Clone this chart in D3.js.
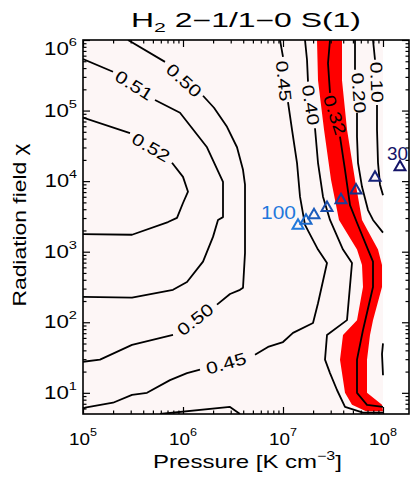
<!DOCTYPE html>
<html><head><meta charset="utf-8">
<script src="https://cdn.jsdelivr.net/npm/d3@7"></script>
<style>
body{margin:0;background:#fff}
text{font-family:"Liberation Sans",Arial,Helvetica,sans-serif;fill:#000}
</style>
</head><body>
<svg id="chart" width="412" height="483"></svg>
<script>
// ---------------- DATA ----------------
const titleText = ["H", "2", " 2\u22121/1\u22120 S(1)"];
const xLabelText = "Pressure [K cm";
const yLabelText = "Radiation field \u03c7";
const xMajorTicks = [1e5, 1e6, 1e7, 1e8];
const yMajorTicks = [1e1, 1e2, 1e3, 1e4, 1e5, 1e6];
const xTickExponents = ["5", "6", "7", "8"];
const yTickExponents = ["1", "2", "3", "4", "5", "6"];
const xDomainLog = [5, 8.26];
const yDomainLog = [0.7, 6];
const gridLogP = [5, 8];          // extent of model grid (log P)
const gridLogChi = [0.7, 6];      // extent of model grid (log chi)

// contour polylines: [log10 P, log10 chi]; null = break (label gap)
const contour052 = [[5.00,4.90],[5.47,4.68],null,[5.89,4.26],[6.00,4.06],[6.05,3.85],[6.00,3.69],[5.94,3.48],[5.85,3.42],[5.49,3.24],[5.00,3.25]];
const contour051 = [[5.00,5.73],[5.30,5.55],null,[5.72,5.15],[5.97,4.97],[6.24,4.48],[6.40,3.99],[6.40,3.49],[6.35,3.45],[6.30,3.21],[6.20,2.86],[6.04,2.57],[5.90,2.46],[5.49,2.35],[5.00,2.36]];
const contour050 = [[5.45,6.00],[5.82,5.69],null,[6.20,5.21],[6.31,5.04],[6.44,4.77],[6.54,4.48],[6.60,4.16],[6.62,3.95],[6.62,3.31],[6.62,2.98],[6.60,2.49],[6.57,2.46],[6.47,2.40],[6.34,2.25],null,[5.90,1.82],[5.49,1.68],[5.17,1.47],[5.00,1.44]];
const contour045 = [[6.97,6.00],[7.00,5.76],null,[7.05,5.12],[7.09,4.73],[7.14,4.26],[7.17,3.78],[7.22,3.38],[7.35,3.03],[7.44,2.84],[7.35,2.27],[7.30,1.99],[7.10,1.85],[7.00,1.72],[6.85,1.65],[6.72,1.54],null,[6.17,1.33],[6.04,1.28],[5.87,1.18],[5.64,1.00],[5.49,0.97],[5.30,0.86],[5.02,0.79],[5.00,0.77],null,[5.77,0.70],[6.47,0.80],[6.57,0.70]];
const contour040 = [[7.22,6.00],[7.24,5.72],[7.25,5.41],null,[7.32,4.75],[7.35,4.26],[7.40,3.78],[7.47,3.45],[7.60,3.03],[7.69,2.84],[7.64,2.03],[7.44,1.82],[7.42,1.47],[7.47,1.28],[7.54,1.04],[7.62,0.80],[7.80,0.72],[8.00,0.72]];
const contour032 = [[7.47,6.00],[7.45,5.67],[7.47,5.25],null,[7.57,4.63],[7.62,4.16],[7.67,3.66],[7.74,3.41],[7.85,3.03],[7.90,2.86],[7.90,2.50],[7.80,1.89],[7.74,1.47],[7.74,1.00],[7.84,0.83],[8.00,0.80]];
const contour020 = [[7.72,6.00],[7.72,5.58],null,[7.74,4.97],[7.74,4.63],[7.75,4.26],[7.79,3.92],[7.85,3.59],[7.90,3.45],[8.00,3.27],null,[8.00,1.70],[7.99,1.55],[8.00,1.25]];
const contour010 = [[7.90,6.00],[7.92,5.72],null,[7.94,5.08],[7.94,4.73],[7.95,4.26],[7.97,3.95],[8.00,3.80]];
const contours = [contour052, contour051, contour050, contour045, contour040, contour032, contour020, contour010];

// contour labels: text, log P, log chi, angle (deg)
const labelTexts  = ["0.50","0.51","0.52","0.50","0.45","0.45","0.40","0.32","0.20","0.10"];
const labelLogP   = [6.01, 5.51, 5.68, 6.12, 6.43, 7.01, 7.28, 7.52, 7.76, 7.94];
const labelLogChi = [5.43, 5.36, 4.48, 2.04, 1.42, 5.42, 5.08, 4.94, 5.25, 5.40];
const labelAngles = [42, 32, 30, -38, -16, 84, 81, 72, 86, 88];

// red band (observed ratio range): log chi with low / high log P
const bandLogChi = [6.00,5.43,4.73,4.02,3.45,3.03,2.81,2.50,2.03,1.82,1.47,1.00,0.83,0.74];
const bandLowP   = [7.34,7.35,7.41,7.48,7.56,7.74,7.79,7.80,7.74,7.60,7.57,7.62,7.69,7.83];
const bandHighP  = [7.59,7.59,7.64,7.72,7.79,7.95,7.99,7.99,7.90,7.87,7.84,7.84,7.99,8.00];

// triangle model points
const triLogP   = [7.15, 7.23, 7.31, 7.44, 7.58, 7.73, 7.92, 8.17];
const triLogChi = [3.37, 3.44, 3.52, 3.62, 3.73, 3.87, 4.05, 4.20];
const triEndLabels = ["100", "30"];

// ---------------- LAYOUT ----------------
const L = 83, R = 409, T = 40, B = 414;
const svg = d3.select("#chart");
const x = d3.scaleLog().domain(xDomainLog.map(v => 10 ** v)).range([L, R]);
const y = d3.scaleLog().domain(yDomainLog.map(v => 10 ** v)).range([B, T]);
const X = lp => x(10 ** lp), Y = lc => y(10 ** lc);

svg.append("defs").append("clipPath").attr("id", "clip")
  .append("rect").attr("x", L).attr("y", T).attr("width", R - L).attr("height", B - T);

const plot = svg.append("g").attr("clip-path", "url(#clip)");

// model grid background
plot.append("rect")
  .attr("x", X(gridLogP[0])).attr("y", Y(gridLogChi[1]))
  .attr("width", X(gridLogP[1]) - X(gridLogP[0]))
  .attr("height", Y(gridLogChi[0]) - Y(gridLogChi[1]) + 2)
  .attr("fill", "#fdf6f6");

// red band
const band = bandLogChi.map((c, i) => ({c, lo: bandLowP[i], hi: bandHighP[i]}));
plot.append("path").datum(band)
  .attr("d", d3.area().y(d => Y(d.c)).x0(d => X(d.lo)).x1(d => X(d.hi)).curve(d3.curveLinear))
  .attr("fill", "#ff0000");

// contours
const line = d3.line().defined(d => d).x(d => X(d[0])).y(d => Y(d[1]));
plot.selectAll("path.contour").data(contours).join("path")
  .attr("class", "contour")
  .attr("d", line).attr("fill", "none").attr("stroke", "#000")
  .attr("stroke-width", 1.8).attr("stroke-linejoin", "round");

// helper for horizontally stretched text
function stretched(parent, px, py, angle, anchor, size, targetW, build) {
  const g = parent.append("g").attr("transform", `translate(${px},${py}) rotate(${angle})`);
  const t = g.append("text").attr("text-anchor", anchor).attr("font-size", size);
  build(t);
  const w = t.node().getBBox().width;
  if (targetW && w > 0) t.attr("transform", `scale(${targetW / w},1)`);
  return t;
}

// contour labels
labelTexts.forEach((s, i) => {
  stretched(svg, X(labelLogP[i]), Y(labelLogChi[i]), labelAngles[i], "middle", 17, 41,
    t => t.attr("dy", "0.36em").text(s));
});

// triangles
const triColor = d3.scaleLinear().domain([0, triLogP.length - 1]).range(["#1f78dc", "#141468"]).interpolate(d3.interpolateRgb);
const tri = d3.symbol().type(d3.symbolTriangle).size(52);
svg.selectAll("path.tri").data(triLogP).join("path")
  .attr("class", "tri")
  .attr("d", tri)
  .attr("transform", (d, i) => `translate(${X(d)},${Y(triLogChi[i])})`)
  .attr("fill", "none").attr("stroke", (d, i) => triColor(i)).attr("stroke-width", 2);

const nT = triLogP.length - 1;
stretched(svg, X(triLogP[0]) - 2, Y(triLogChi[0]) - 7, 0, "end", 18, 35,
  t => t.attr("fill", triColor(0)).style("fill", triColor(0)).text(triEndLabels[0]));
stretched(svg, X(triLogP[nT]) - 2.5, Y(triLogChi[nT]) - 7, 0, "middle", 18, 21,
  t => t.style("fill", triColor(nT)).text(triEndLabels[1]));

// axes ticks (inward, all four sides)
function minorTicks(domLog) {
  const out = [];
  for (let e = Math.floor(domLog[0]); e <= Math.ceil(domLog[1]); e++)
    for (let k = 2; k <= 9; k++) {
      const v = k * 10 ** e;
      if (Math.log10(v) > domLog[0] && Math.log10(v) < domLog[1]) out.push(v);
    }
  return out;
}
const xMinor = minorTicks(xDomainLog), yMinor = minorTicks(yDomainLog);
const axes = [
  [d3.axisBottom(x), `translate(0,${B})`, xMajorTicks, xMinor],
  [d3.axisTop(x), `translate(0,${T})`, xMajorTicks, xMinor],
  [d3.axisLeft(y), `translate(${L},0)`, yMajorTicks, yMinor],
  [d3.axisRight(y), `translate(${R},0)`, yMajorTicks, yMinor]
];
axes.forEach(([ax, tr, maj, mnr]) => {
  [[maj, -7], [mnr, -3.5]].forEach(([vals, size]) => {
    const g = svg.append("g").attr("transform", tr)
      .call(ax.tickValues(vals).tickSize(size).tickFormat(""));
    g.select(".domain").remove();
    g.selectAll("line").attr("stroke", "#000").attr("stroke-width", 1.2);
  });
});

// frame
svg.append("rect").attr("x", L).attr("y", T).attr("width", R - L).attr("height", B - T)
  .attr("fill", "none").attr("stroke", "#000").attr("stroke-width", 1.6);

// tick labels
xMajorTicks.forEach((v, i) => {
  stretched(svg, x(v), 445, 0, "middle", 16.5, 28, t => {
    t.append("tspan").text("10");
    t.append("tspan").attr("dy", -9).attr("font-size", 11).text(xTickExponents[i]);
  });
});
yMajorTicks.forEach((v, i) => {
  const py = Math.max(y(v), T + 9) + 6;
  stretched(svg, 77, py, 0, "end", 17.5, 33, t => {
    t.append("tspan").text("10");
    t.append("tspan").attr("dy", -9).attr("font-size", 11.5).text(yTickExponents[i]);
  });
});

// title
stretched(svg, 246, 27, 0, "middle", 19.5, 230, t => {
  t.append("tspan").text(titleText[0]);
  t.append("tspan").attr("dy", 5).attr("font-size", 13).text(titleText[1]);
  t.append("tspan").attr("dy", -5).text(titleText[2]);
});

// axis titles
stretched(svg, 247.5, 468, 0, "middle", 18, 189, t => {
  t.append("tspan").text(xLabelText);
  t.append("tspan").attr("dy", -8).attr("font-size", 12).text("\u22123");
  t.append("tspan").attr("dy", 8).text("]");
});
stretched(svg, 26, 225, -90, "middle", 18, 164, t => t.text(yLabelText));
</script>
</body></html>
